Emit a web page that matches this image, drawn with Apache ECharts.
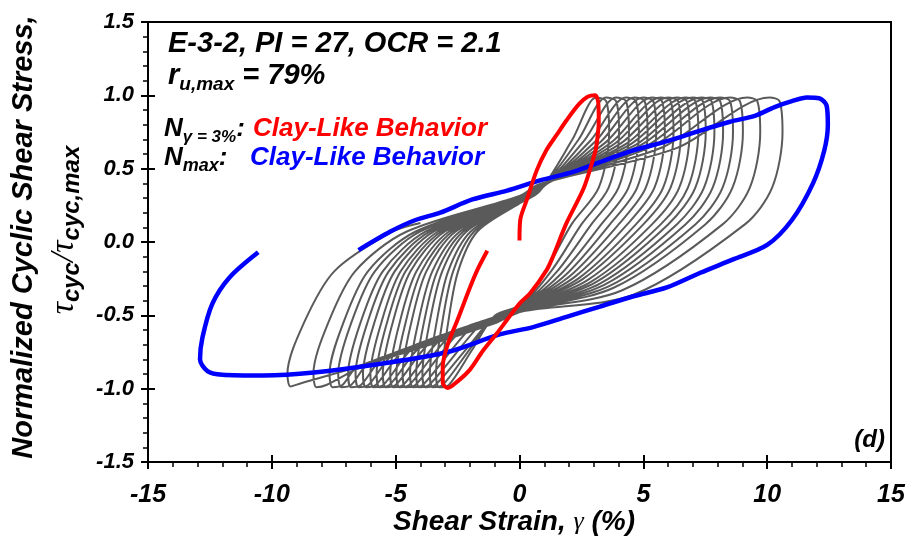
<!DOCTYPE html>
<html><head><meta charset="utf-8">
<script src="https://cdn.jsdelivr.net/npm/echarts@6/dist/echarts.min.js"></script>
<style>html,body{margin:0;padding:0;background:#fff}#c{width:913px;height:541px}</style>
</head><body><div id="c"></div>
<script>
// ---- axis ticks ----
const xTickValues = [-15, -10, -5, 0, 5, 10, 15];
const yTickValues = [-1.5, -1.0, -0.5, 0.0, 0.5, 1.0, 1.5];

// ---- gray cycles (each: bottom corner -> top peak -> next bottom corner), [strain %, tau/tau_max] ----
const grayLoop01 = [[-3.0,-0.99],[-3.12,-0.9],[-2.88,-0.55],[-2.48,-0.2],[-1.71,0.07],[0,0.263],[0.8,0.343],[2.14,0.70],[3.1,0.985],[3.5,0.96],[3.62,0.75],[3.2,0.37],[2.1,0.12],[1.1,-0.185],[0.1,-0.423],[-1.0,-0.503],[-1.93,-0.74],[-2.85,-0.975]];
const grayLoop02 = [[-3.25,-0.99],[-3.37,-0.9],[-3.12,-0.55],[-2.68,-0.2],[-1.84,0.07],[0,0.266],[0.8,0.346],[2.38,0.697],[3.5,0.985],[3.9,0.96],[4.02,0.75],[3.6,0.37],[2.5,0.12],[1.3,-0.194],[0.1,-0.426],[-1.0,-0.506],[-2.05,-0.74],[-3.1,-0.975]];
const grayLoop03 = [[-3.5,-0.99],[-3.62,-0.9],[-3.35,-0.55],[-2.88,-0.2],[-1.98,0.07],[0,0.269],[0.8,0.349],[2.62,0.693],[3.9,0.985],[4.3,0.96],[4.42,0.75],[4.0,0.37],[2.9,0.12],[1.5,-0.204],[0.1,-0.429],[-1.0,-0.509],[-2.2,-0.74],[-3.4,-0.975]];
const grayLoop04 = [[-3.8,-0.99],[-3.92,-0.9],[-3.63,-0.55],[-3.12,-0.2],[-2.15,0.07],[0,0.272],[0.8,0.352],[2.86,0.69],[4.3,0.985],[4.7,0.96],[4.82,0.75],[4.4,0.37],[3.3,0.12],[1.7,-0.213],[0.1,-0.432],[-1.0,-0.512],[-1.52,-0.55],[-3.65,-0.975]];
const grayLoop05 = [[-4.05,-0.99],[-4.17,-0.9],[-3.86,-0.55],[-3.32,-0.2],[-2.28,0.07],[0,0.275],[0.8,0.355],[3.07,0.687],[4.65,0.985],[5.05,0.96],[5.17,0.75],[4.75,0.37],[3.65,0.12],[1.88,-0.222],[0.1,-0.435],[-1.0,-0.515],[-1.88,-0.57],[-3.9,-0.975]];
const grayLoop06 = [[-4.3,-0.99],[-4.42,-0.9],[-4.09,-0.55],[-3.52,-0.2],[-2.42,0.07],[0,0.278],[0.8,0.358],[3.28,0.684],[5.0,0.985],[5.4,0.96],[5.52,0.75],[5.1,0.37],[4.0,0.12],[2.05,-0.23],[0.1,-0.438],[-1.0,-0.518],[-2.31,-0.596],[-4.2,-0.975]];
const grayLoop07 = [[-4.6,-0.99],[-4.72,-0.9],[-4.37,-0.55],[-3.76,-0.2],[-2.59,0.07],[0,0.281],[0.8,0.361],[3.49,0.681],[5.35,0.985],[5.75,0.96],[5.87,0.75],[5.45,0.37],[4.35,0.12],[2.23,-0.238],[0.1,-0.441],[-1.0,-0.521],[-2.66,-0.617],[-4.45,-0.975]];
const grayLoop08 = [[-4.85,-0.99],[-4.97,-0.9],[-4.6,-0.55],[-3.96,-0.2],[-2.72,0.07],[0,0.284],[0.8,0.364],[3.70,0.678],[5.7,0.985],[6.1,0.96],[6.22,0.75],[5.8,0.37],[4.7,0.12],[2.4,-0.246],[0.1,-0.444],[-1.0,-0.524],[-3.02,-0.638],[-4.7,-0.975]];
const grayLoop09 = [[-5.1,-0.99],[-5.22,-0.9],[-4.84,-0.55],[-4.16,-0.2],[-2.86,0.07],[0,0.287],[0.8,0.367],[3.88,0.675],[6.0,0.985],[6.4,0.96],[6.52,0.75],[6.1,0.37],[5.0,0.12],[2.55,-0.253],[0.1,-0.447],[-1.0,-0.527],[-3.45,-0.664],[-5.0,-0.975]];
const grayLoop10 = [[-5.4,-0.99],[-5.52,-0.9],[-5.12,-0.55],[-4.4,-0.2],[-3.03,0.07],[0,0.29],[0.8,0.37],[4.09,0.672],[6.35,0.985],[6.75,0.96],[6.87,0.75],[6.45,0.37],[5.35,0.12],[2.73,-0.262],[0.1,-0.45],[-1.0,-0.53],[-3.81,-0.686],[-5.25,-0.975]];
const grayLoop11 = [[-5.65,-0.99],[-5.77,-0.9],[-5.35,-0.55],[-4.6,-0.2],[-3.16,0.07],[0,0.293],[0.8,0.373],[4.30,0.669],[6.7,0.985],[7.1,0.96],[7.22,0.75],[6.8,0.37],[5.7,0.12],[2.9,-0.27],[0.1,-0.453],[-1.0,-0.533],[-4.17,-0.707],[-5.5,-0.975]];
const grayLoop12 = [[-5.9,-0.99],[-6.02,-0.9],[-5.58,-0.55],[-4.8,-0.2],[-3.3,0.07],[0,0.296],[0.8,0.376],[4.48,0.666],[7.0,0.985],[7.4,0.96],[7.52,0.75],[7.1,0.37],[6.0,0.12],[3.05,-0.277],[0.1,-0.456],[-1.0,-0.536],[-4.59,-0.732],[-5.8,-0.975]];
const grayLoop13 = [[-6.2,-0.99],[-6.32,-0.9],[-5.86,-0.55],[-5.04,-0.2],[-3.47,0.07],[0,0.299],[0.8,0.379],[4.69,0.663],[7.35,0.985],[7.75,0.96],[7.87,0.75],[7.45,0.37],[6.35,0.12],[3.23,-0.285],[0.1,-0.459],[-1.0,-0.539],[-5.02,-0.758],[-6.1,-0.975]];
const grayLoop14 = [[-6.5,-0.99],[-6.62,-0.9],[-6.14,-0.55],[-5.28,-0.2],[-3.63,0.07],[0,0.302],[0.8,0.382],[4.90,0.66],[7.7,0.985],[8.1,0.96],[8.22,0.75],[7.8,0.37],[6.7,0.12],[3.4,-0.294],[0.1,-0.462],[-1.0,-0.542],[-5.45,-0.784],[-6.4,-0.975]];
const grayLoop15 = [[-6.8,-0.99],[-6.92,-0.9],[-6.42,-0.55],[-5.52,-0.2],[-3.8,0.07],[0,0.305],[0.8,0.385],[5.14,0.657],[8.1,0.985],[8.5,0.96],[8.62,0.75],[8.2,0.37],[7.1,0.12],[3.6,-0.303],[0.1,-0.465],[-1.0,-0.545],[-6.02,-0.818],[-6.8,-0.975]];
const grayLoop16 = [[-7.2,-0.99],[-7.32,-0.9],[-6.79,-0.55],[-5.84,-0.2],[-4.02,0.07],[0,0.308],[0.8,0.388],[5.38,0.654],[8.5,0.985],[8.9,0.96],[9.02,0.75],[8.6,0.37],[7.5,0.12],[3.8,-0.312],[0.1,-0.468],[-1.0,-0.548],[-6.52,-0.848],[-7.15,-0.975]];
const grayLoop17 = [[-7.55,-0.99],[-7.67,-0.9],[-7.11,-0.55],[-6.12,-0.2],[-4.21,0.07],[0,0.311],[0.8,0.391],[5.80,0.648],[9.2,0.985],[9.6,0.96],[9.72,0.75],[9.3,0.37],[8.2,0.12],[4.15,-0.329],[0.1,-0.471],[-1.0,-0.551],[-6.0,-0.82],[-7.8,-0.975]];
const grayLoop18 = [[-8.2,-0.99],[-8.32,-0.9],[-7.72,-0.55],[-6.64,-0.2],[-4.57,0.07],[0,0.314],[0.8,0.394],[6.34,0.64],[10.1,0.985],[10.5,0.96],[10.62,0.75],[10.2,0.37],[9.1,0.12],[4.6,-0.36],[0.1,-0.474],[-1.0,-0.554],[-5.5,-0.80],[-8.85,-0.965]];
const grayTail   = [[-9.25,-0.985],[-9.37,-0.9],[-8.70,-0.55],[-7.48,-0.2],[-5.14,0.07],[-4.0,0.13]];

// ---- N at gamma = 3% (red) ----
const redStrain = [0.0,0.03,0.3,0.7,1.1,1.5,1.9,2.4,2.75,3.05,3.18,3.2,3.1,3.0,2.6,1.9,1.35,1.1,0.43,0.0,-0.5,-0.9,-1.47,-2.0,-2.5,-2.9,-3.1,-3.1,-2.9,-2.5,-2.0,-1.7,-1.3];
const redStress = [0.01,0.15,0.29,0.49,0.63,0.73,0.83,0.94,0.99,1.0,0.95,0.82,0.65,0.58,0.37,0.13,-0.1,-0.19,-0.35,-0.42,-0.53,-0.62,-0.74,-0.87,-0.95,-0.995,-0.96,-0.85,-0.7,-0.53,-0.31,-0.19,-0.06];

// ---- N max (blue) ----
const blueStrain = [-6.5,-5.23,-4.2,-3.2,-1.9,-0.5,0.83,2.2,3.5,4.5,6.0,7.3,8.5,9.5,10.3,11.0,11.6,12.1,12.4,12.45,12.3,11.85,11.0,10.0,8.6,7.3,5.95,4.6,3.25,1.9,0.55,-0.8,-2.9,-5.6,-8.3,-10.35,-12.0,-12.6,-12.9,-12.8,-12.4,-11.7,-10.55];
const blueStress = [-0.055,0.07,0.15,0.2,0.29,0.35,0.42,0.48,0.56,0.62,0.69,0.76,0.82,0.86,0.92,0.96,0.985,0.98,0.93,0.8,0.62,0.40,0.15,-0.02,-0.12,-0.21,-0.31,-0.37,-0.44,-0.51,-0.58,-0.63,-0.75,-0.83,-0.89,-0.91,-0.905,-0.88,-0.8,-0.65,-0.42,-0.24,-0.07];

// ---- build series data ----
const grayPath = [].concat(grayLoop01, grayLoop02, grayLoop03, grayLoop04, grayLoop05, grayLoop06,
  grayLoop07, grayLoop08, grayLoop09, grayLoop10, grayLoop11, grayLoop12, grayLoop13, grayLoop14,
  grayLoop15, grayLoop16, grayLoop17, grayLoop18, grayTail);
const redPath = redStrain.map((x, i) => [x, redStress[i]]);
const bluePath = blueStrain.map((x, i) => [x, blueStress[i]]);

const FF = '"Liberation Sans", Arial, sans-serif';
const FN = '"Liberation Sans Narrow", "Arial Narrow", "Liberation Sans", Arial, sans-serif';
const FS = '"Liberation Serif", "DejaVu Serif", serif';

const chart = echarts.init(document.getElementById('c'), null, {renderer: 'canvas'});

function axisX(inside) {
  return {
    type: 'value', min: xTickValues[0], max: xTickValues[xTickValues.length - 1], interval: 5,
    position: 'bottom',
    axisLine: {show: !inside, onZero: false, lineStyle: {color: '#000', width: 2}},
    axisTick: {show: true, inside: inside, length: 7, lineStyle: {color: '#000', width: 2}},
    minorTick: {show: !inside, splitNumber: 5, length: 5, lineStyle: {color: '#000', width: 1.5}},
    splitLine: {show: false}, minorSplitLine: {show: false},
    axisLabel: {show: !inside, margin: 21, color: '#000', fontFamily: FN, fontWeight: 'bold', fontStyle: 'italic', fontSize: 25,
      formatter: v => String(v)}
  };
}
function axisY(inside) {
  return {
    type: 'value', min: yTickValues[0], max: yTickValues[yTickValues.length - 1], interval: 0.5,
    position: 'left',
    axisLine: {show: !inside, onZero: false, lineStyle: {color: '#000', width: 2}},
    axisTick: {show: true, inside: inside, length: 7, lineStyle: {color: '#000', width: 2}},
    minorTick: {show: !inside, splitNumber: 5, length: 5, lineStyle: {color: '#000', width: 1.5}},
    splitLine: {show: false}, minorSplitLine: {show: false},
    axisLabel: {show: !inside, margin: 14, color: '#000', fontFamily: FF, fontWeight: 'bold', fontStyle: 'italic', fontSize: 22,
      formatter: v => v.toFixed(1)}
  };
}

const bi = (size, extra) => Object.assign({fontFamily: FF, fontWeight: 'bold', fontStyle: 'italic', fontSize: size, fill: '#000', color: '#000'}, extra || {});

const option = {
  animation: false,
  backgroundColor: '#fff',
  grid: {left: 148, right: 22, top: 22, bottom: 79, show: true, borderColor: '#000', borderWidth: 2, backgroundColor: 'transparent'},
  xAxis: [axisX(false), axisX(true)],
  yAxis: [axisY(false), axisY(true)],
  series: [
    {type: 'line', data: grayPath, xAxisIndex: 0, yAxisIndex: 0, showSymbol: false, smooth: 0.3, z: 2,
     lineStyle: {color: '#5a5a5a', width: 2}, silent: true},
    {type: 'line', data: bluePath, showSymbol: false, smooth: 0.3, z: 3,
     lineStyle: {color: '#0000ff', width: 4.5}, silent: true},
    {type: 'line', data: redPath, showSymbol: false, smooth: 0.3, z: 4,
     lineStyle: {color: '#ff0000', width: 4}, silent: true}
  ],
  graphic: [
    {type: 'text', x: 168, y: 44, style: Object.assign(bi(29), {text: 'E-3-2, PI = 27, OCR = 2.1', textVerticalAlign: 'middle'})},
    {type: 'text', x: 168, y: 76, style: {text: '{m|r}{s|u,max}{m| = 79%}', textVerticalAlign: 'middle',
      rich: {m: bi(29), s: bi(19, {padding: [18, 0, 0, 0]})}}},
    {type: 'text', x: 164, y: 129, style: {text: '{m|N}{s|γ = 3%}{m|:}', textVerticalAlign: 'middle',
      rich: {m: bi(26), s: bi(17, {padding: [16, 0, 0, 0]})}}},
    {type: 'text', x: 253, y: 129, style: Object.assign(bi(26, {fill: '#ff0000', color: '#ff0000'}), {text: 'Clay-Like Behavior', textVerticalAlign: 'middle'})},
    {type: 'text', x: 164, y: 158, style: {text: '{m|N}{s|max}{m|:}', textVerticalAlign: 'middle',
      rich: {m: bi(26), s: bi(18, {padding: [16, 0, 0, 0]})}}},
    {type: 'text', x: 250, y: 158, style: Object.assign(bi(26, {fill: '#0000ff', color: '#0000ff'}), {text: 'Clay-Like Behavior', textVerticalAlign: 'middle'})},
    {type: 'text', x: 885, y: 440, style: Object.assign(bi(24), {text: '(d)', textAlign: 'right', textVerticalAlign: 'middle'})},
    {type: 'text', x: 514, y: 522, style: {text: '{m|Shear Strain, }{g|γ}{m| (%)}', textAlign: 'center', textVerticalAlign: 'middle',
      rich: {m: Object.assign(bi(28), {fontFamily: FN}), g: {fontFamily: FS, fontStyle: 'italic', fontSize: 26, fill: '#000', color: '#000'}}}},
    {type: 'text', x: 24, y: 237, rotation: Math.PI / 2, style: Object.assign(bi(29), {text: 'Normalized Cyclic Shear Stress,', textAlign: 'center', textVerticalAlign: 'middle'})},
    {type: 'text', x: 64, y: 230, rotation: Math.PI / 2, style: {text: '{t|τ}{s|cyc}{t|/τ}{s|cyc,max}', textAlign: 'center', textVerticalAlign: 'middle',
      rich: {t: {fontFamily: FS, fontStyle: 'italic', fontSize: 34, fill: '#000', color: '#000'},
             s: bi(24, {padding: [16, 0, 0, 0]})}}}
  ]
};
chart.setOption(option);
</script>
</body></html>
